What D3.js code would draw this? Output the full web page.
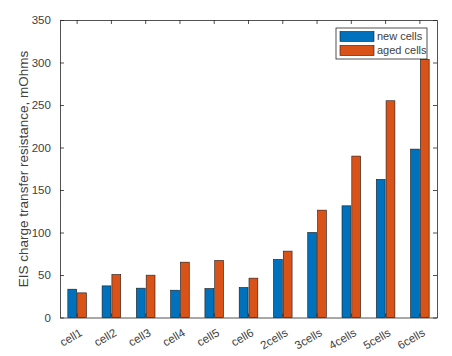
<!DOCTYPE html>
<html><head><meta charset="utf-8">
<script src="https://cdn.jsdelivr.net/npm/d3@7"></script>
<style>body{margin:0;background:#fff;}svg{display:block;font-family:"Liberation Sans",Arial,sans-serif;}</style>
</head><body><svg id="c" width="452" height="356"></svg>
<script>
const categories = ["cell1","cell2","cell3","cell4","cell5","cell6","2cells","3cells","4cells","5cells","6cells"];
const newCells = [33.3, 37.2, 34.5, 32.1, 34.1, 35.3, 68.3, 100.1, 131.4, 162.5, 198.1];
const agedCells = [29.0, 50.6, 49.8, 65.1, 67.1, 46.3, 78.1, 126.3, 189.9, 255.0, 303.7];
const seriesNames = ["new cells", "aged cells"];
const yTicks = [0, 50, 100, 150, 200, 250, 300, 350];

const colors = ["#0072BD", "#D95319"];
const axisColor = "#262626";
const textColor = "#404040";
const svg = d3.select("#c");
const L = 60, R = 437, T = 20, B = 317.5;

const x = d3.scaleBand().domain(categories).range([L, R]).paddingInner(0).paddingOuter(0);
const y = d3.scaleLinear().domain([0, 350]).range([B, T]);
const bw = x.bandwidth();
const sub = d3.scaleBand().domain([0,1]).range([-bw*0.286, bw*0.286]).paddingInner(0.1).paddingOuter(0.05);

const series = [newCells, agedCells];
series.forEach((vals, si) => {
  svg.append("g").selectAll("rect").data(vals).join("rect")
    .attr("x", (d,i) => x(categories[i]) + bw/2 + sub(si))
    .attr("width", sub.bandwidth())
    .attr("y", d => y(d))
    .attr("height", d => y(0) - y(d))
    .attr("fill", colors[si])
    .attr("stroke", "#1a1a1a").attr("stroke-width", 0.6);
});

// Axes
const gL = svg.append("g").attr("transform", `translate(${L},0)`)
  .call(d3.axisLeft(y).tickValues(yTicks).tickSizeInner(-4).tickSizeOuter(0).tickPadding(8));
const gR = svg.append("g").attr("transform", `translate(${R},0)`)
  .call(d3.axisRight(y).tickValues(yTicks).tickSizeInner(-4).tickSizeOuter(0).tickFormat(""));
const gB = svg.append("g").attr("transform", `translate(0,${B})`)
  .call(d3.axisBottom(x).tickSizeInner(-4).tickSizeOuter(0).tickFormat(""));
const gT = svg.append("g").attr("transform", `translate(0,${T})`)
  .call(d3.axisTop(x).tickSizeInner(-4).tickSizeOuter(0).tickFormat(""));
[gL,gR,gB,gT].forEach(g => {
  g.selectAll("path,line").attr("stroke", axisColor).attr("stroke-width", 0.8);
  g.selectAll("text").attr("fill", textColor).attr("font-size", 11.5).attr("font-family", "Liberation Sans, Arial, sans-serif");
});
gL.selectAll("text").attr("dx", "-0.1em");

// rotated x labels
svg.append("g").selectAll("text").data(categories).join("text")
  .attr("transform", d => `translate(${x(d) + bw/2 + 4},${B + 14}) rotate(-30)`)
  .attr("text-anchor", "end")
  .attr("font-size", 11.5).attr("fill", textColor)
  .attr("dy", "0.35em")
  .text(d => d);

// y label
svg.append("text")
  .attr("transform", `translate(28,169) rotate(-90)`)
  .attr("text-anchor", "middle").attr("font-size", 13.5).attr("fill", textColor)
  .text("EIS charge transfer resistance, mOhms");

// legend
const lg = svg.append("g");
lg.append("rect").attr("x", 336).attr("y", 28).attr("width", 91).attr("height", 31)
  .attr("fill", "#fff").attr("stroke", axisColor).attr("stroke-width", 0.8);
seriesNames.forEach((n, i) => {
  lg.append("rect").attr("x", 340).attr("y", 31.5 + i*14).attr("width", 34).attr("height", 10)
    .attr("fill", colors[i]).attr("stroke", "#1a1a1a").attr("stroke-width", 0.6);
  lg.append("text").attr("x", 377).attr("y", 36.5 + i*14).attr("dy", "0.35em")
    .attr("font-size", 11).attr("fill", textColor).text(n);
});
</script></body></html>
